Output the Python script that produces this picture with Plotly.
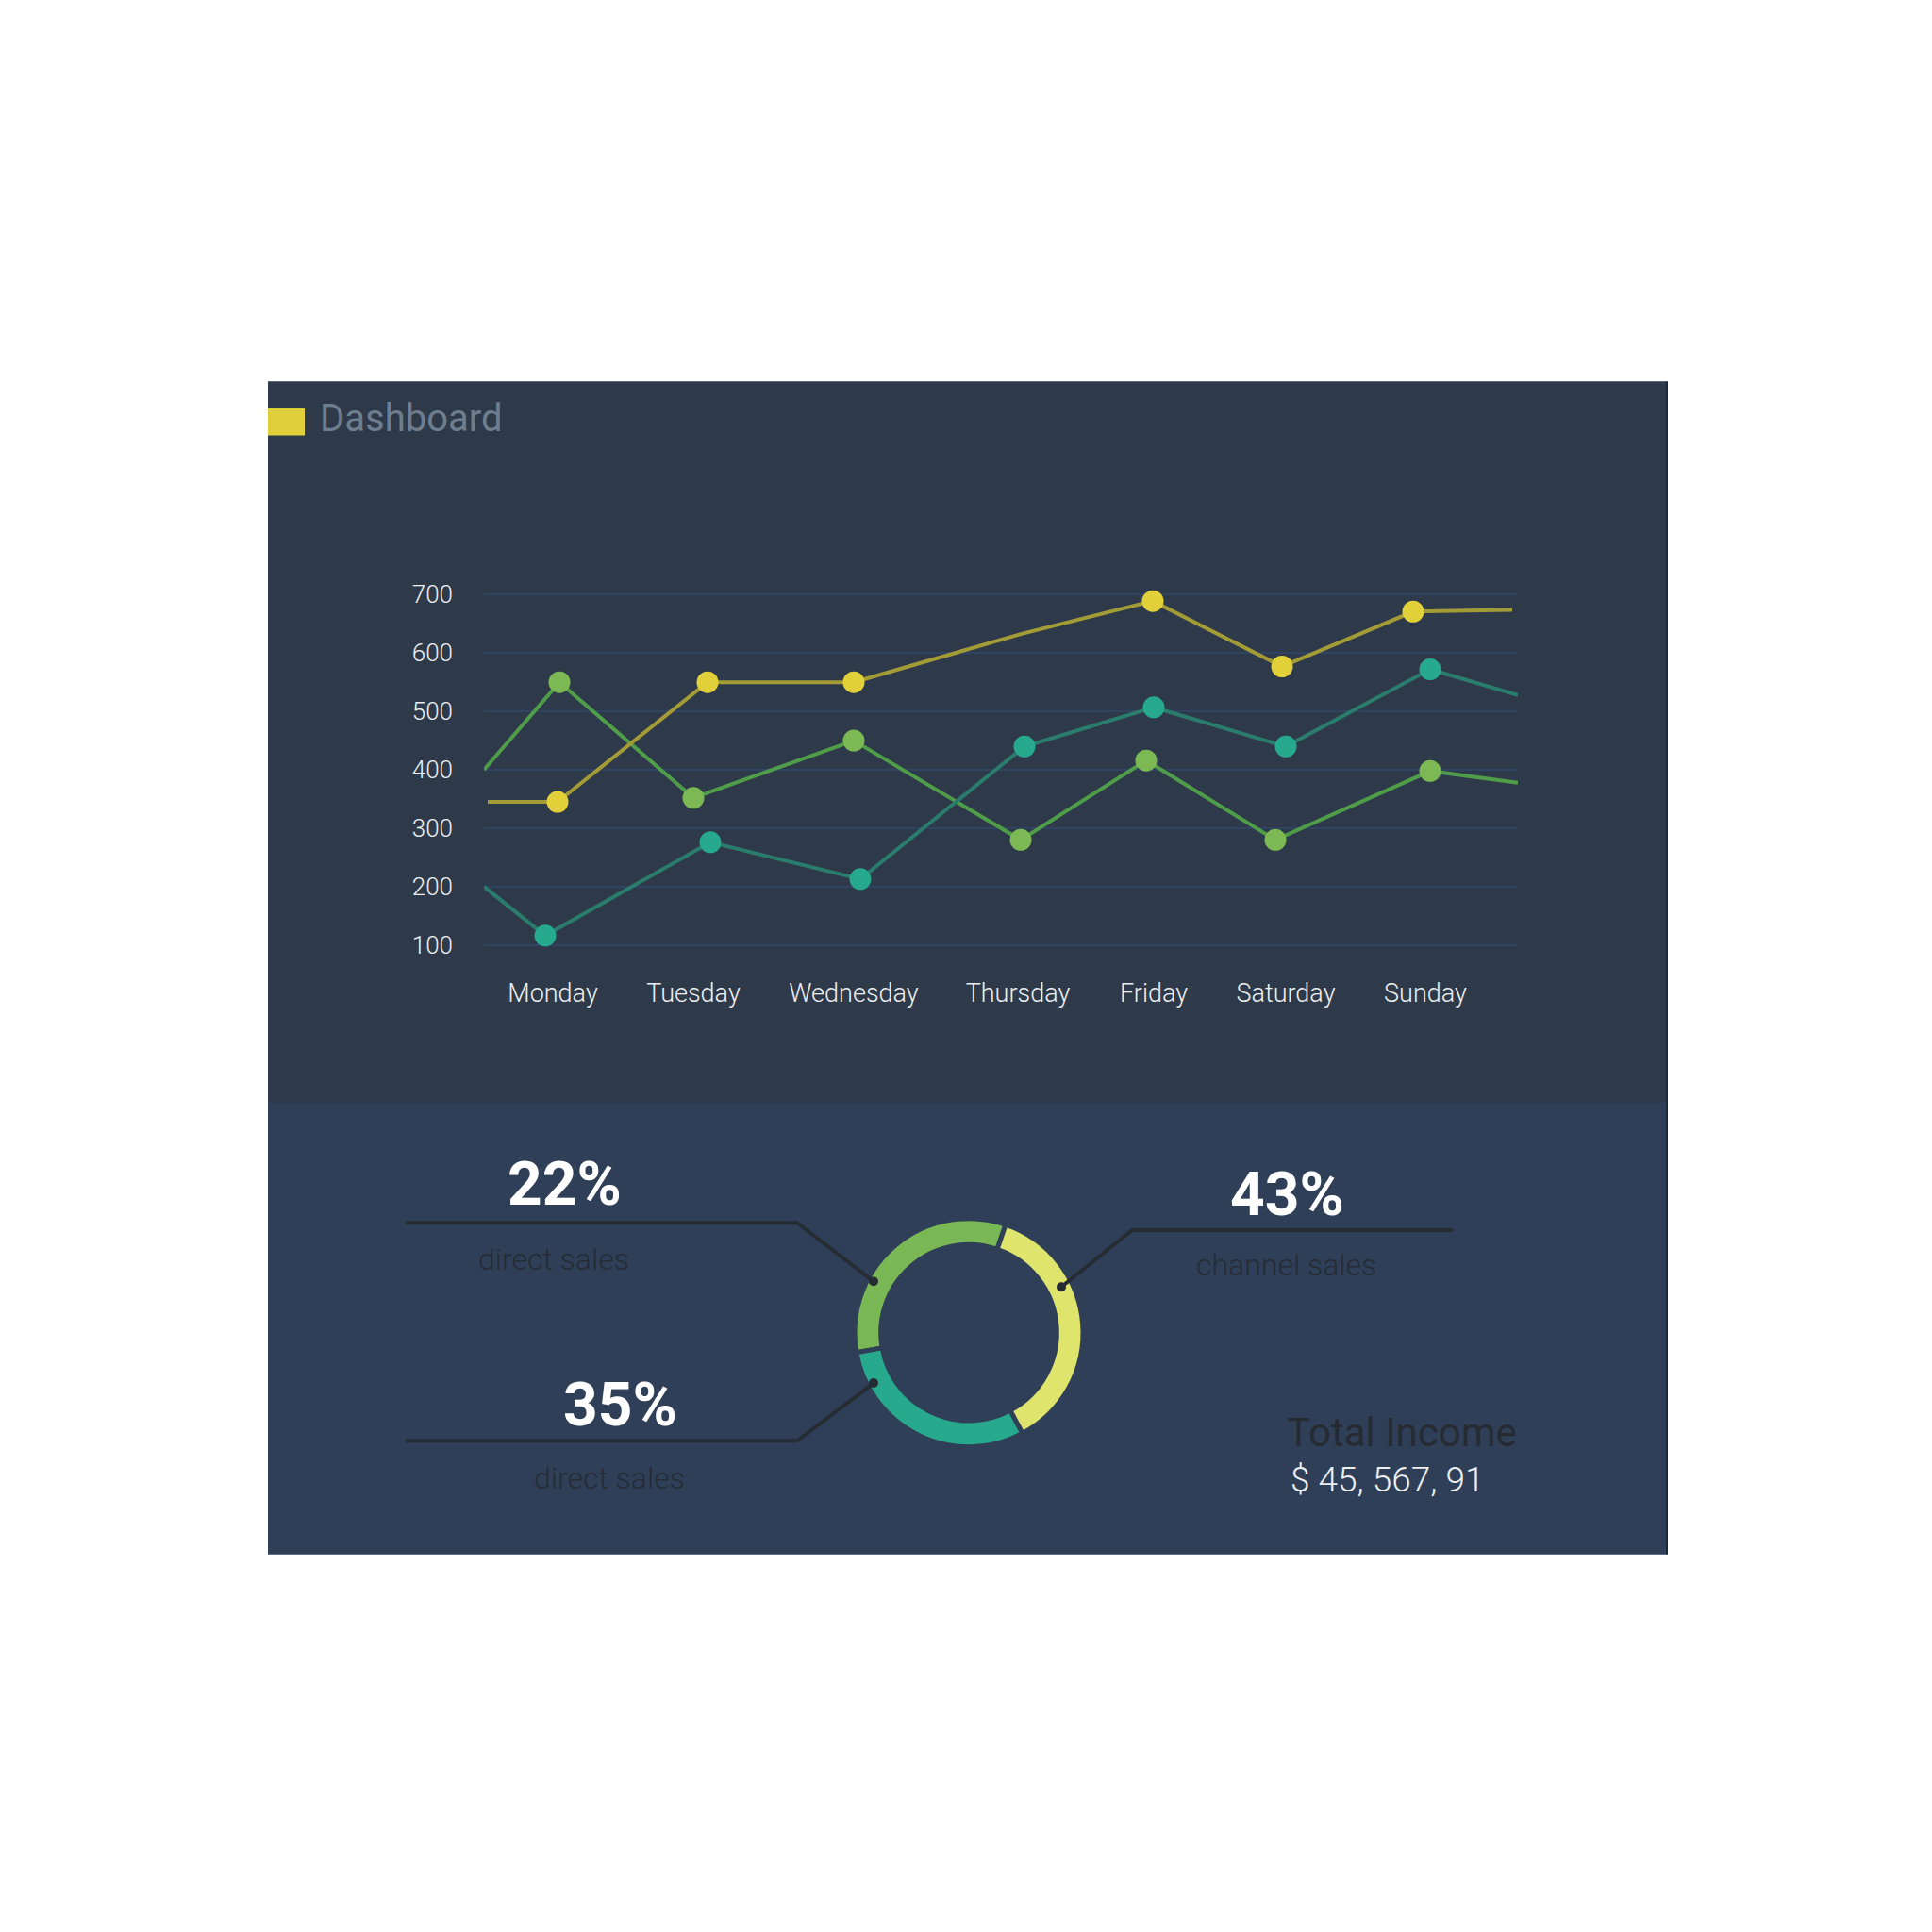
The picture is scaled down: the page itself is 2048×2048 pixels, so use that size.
import plotly.graph_objects as go

# weekly line data (x is position along the week axis, 0..1096)
days = ["Monday", "Tuesday", "Wednesday", "Thursday", "Friday", "Saturday", "Sunday"]
day_pos = [73, 222, 392, 566, 710, 850, 998]
y_ticks = [100, 200, 300, 400, 500, 600, 700]

green_x = [0, 80, 222, 392, 569, 702, 839, 1003, 1096]
green_y = [400, 550, 352, 450, 280, 416, 280, 398, 378]
green_dots = [1, 2, 3, 4, 5, 6, 7]

yellow_x = [4, 78, 237, 392, 570, 709, 846, 985, 1090]
yellow_y = [345, 345, 550, 550, 633, 689, 577, 671, 674]
yellow_dots = [1, 2, 3, 5, 6, 7]

teal_x = [0, 65, 240, 399, 573, 710, 850, 1003, 1096]
teal_y = [200, 116, 276, 213, 440, 507, 440, 572, 528]
teal_dots = [1, 2, 3, 4, 5, 6, 7]

# donut (arc sizes as drawn) and its labels
ring_names = ["direct sales", "channel sales", "direct sales"]
ring_values = [33, 37, 30]
ring_pct = ["22%", "43%", "35%"]
total_label = "Total Income"
total_value = "$ 45, 567, 91"

W = 2048
TOP_BG = "#2e3a4a"
BOT_BG = "#2f3f57"
DARK_TXT = "#262c36"
LIGHT = "#eceef0"


def px(x):
    return x / W


def py(y):
    return 1 - y / W


def path(pts):
    return "M " + " L ".join(f"{px(a):.5f},{py(b):.5f}" for a, b in pts)


fig = go.Figure()

series = [
    (green_x, green_y, green_dots, "#4f9c49", "#7cb955"),
    (yellow_x, yellow_y, yellow_dots, "#a39b36", "#e2d03b"),
    (teal_x, teal_y, teal_dots, "#2a7d6c", "#27a98e"),
]
for xs, ys, dots, lc, mc in series:
    fig.add_trace(go.Scatter(x=xs, y=ys, mode="lines", line=dict(color=lc, width=4),
                             cliponaxis=False, hoverinfo="skip"))
    fig.add_trace(go.Scatter(x=[xs[i] for i in dots], y=[ys[i] for i in dots], mode="markers",
                             marker=dict(color=mc, size=23), cliponaxis=False, hoverinfo="skip"))

# donut ring, center (1027, 1418)
fig.add_trace(go.Pie(
    values=ring_values, labels=["a", "b", "c"], sort=False, direction="clockwise", rotation=260,
    hole=0.771, textinfo="none", hoverinfo="skip",
    marker=dict(colors=["#7ab755", "#dfe46c", "#27a98e"], line=dict(color=BOT_BG, width=5)),
    domain=dict(x=[px(904.5), px(1149.5)], y=[py(1540.5), py(1295.5)]),
))

shapes = [
    dict(type="rect", x0=px(284), x1=px(1767), y0=py(397), y1=py(1172), fillcolor=TOP_BG, line_width=0, layer="below"),
    dict(type="rect", x0=px(284), x1=px(1767), y0=py(1171), y1=py(1656), fillcolor=BOT_BG, line_width=0, layer="below"),
    dict(type="line", x0=px(1767), x1=px(1767), y0=py(397), y1=py(1656), line=dict(color="#1b2640", width=2)),
    dict(type="rect", x0=px(284), x1=px(323), y0=py(426), y1=py(455), fillcolor="#e0cf3a", line_width=0),
    dict(type="path", path=path([(430, 1300), (845, 1300), (926, 1363)]), line=dict(color="#262c33", width=4)),
    dict(type="path", path=path([(430, 1534), (845, 1534), (926, 1472)]), line=dict(color="#262c33", width=4)),
    dict(type="path", path=path([(1540, 1308), (1200, 1308), (1125, 1369)]), line=dict(color="#262c33", width=4)),
]
for cx, cy in [(926, 1363), (926, 1472), (1125, 1369)]:
    shapes.append(dict(type="circle", x0=px(cx - 5), x1=px(cx + 5), y0=py(cy + 5), y1=py(cy - 5),
                       fillcolor="#262c33", line_width=0))
for s in shapes:
    s.update(xref="paper", yref="paper")

annotations = [
    dict(x=px(337), y=py(437), text="Dashboard", xanchor="left",
         font=dict(family="Roboto", size=40, color="#6e7e8e")),
    dict(x=px(598), y=py(1259), text=f"<b>{ring_pct[0]}</b>", font=dict(family="Roboto", size=64, color="white")),
    dict(x=px(587), y=py(1339), text=ring_names[0], font=dict(family="Roboto", size=32, color=DARK_TXT, weight=300)),
    dict(x=px(1364), y=py(1270), text=f"<b>{ring_pct[1]}</b>", font=dict(family="Roboto", size=64, color="white")),
    dict(x=px(1363), y=py(1345), text=ring_names[1], font=dict(family="Roboto", size=32, color=DARK_TXT, weight=300)),
    dict(x=px(657), y=py(1496), text=f"<b>{ring_pct[2]}</b>", font=dict(family="Roboto", size=64, color="white")),
    dict(x=px(646), y=py(1574), text=ring_names[2], font=dict(family="Roboto", size=32, color=DARK_TXT, weight=300)),
    dict(x=px(1362), y=py(1525), text=total_label, xanchor="left", font=dict(family="Roboto", size=42, color="#262b33")),
    dict(x=px(1366), y=py(1576), text=total_value, xanchor="left", font=dict(family="Roboto", size=37, color=LIGHT, weight=300)),
]
for a in annotations:
    a.update(xref="paper", yref="paper", showarrow=False, yanchor="middle")
    a.setdefault("xanchor", "center")

fig.update_layout(
    width=W, height=W, margin=dict(l=0, r=0, t=0, b=0),
    paper_bgcolor="white", plot_bgcolor="rgba(0,0,0,0)",
    showlegend=False, shapes=shapes, annotations=annotations,
    xaxis=dict(domain=[px(513), px(1609)], range=[0, 1096], tickvals=day_pos, ticktext=days,
               showgrid=False, zeroline=False, showline=False, ticks="", ticklabelstandoff=30,
               tickfont=dict(family="Roboto", size=27, color=LIGHT, weight=300)),
    yaxis=dict(domain=[py(1004.5), py(623.5)], range=[96, 704], tickvals=y_ticks,
               gridcolor="#2f4363", gridwidth=2, zeroline=False, showline=False, ticks="",
               ticklabelstandoff=32, tickfont=dict(family="Roboto", size=26, color=LIGHT, weight=300)),
)

fig.write_html("out.html", config={"displayModeBar": False},
               post_script="document.body.style.margin='0';")
